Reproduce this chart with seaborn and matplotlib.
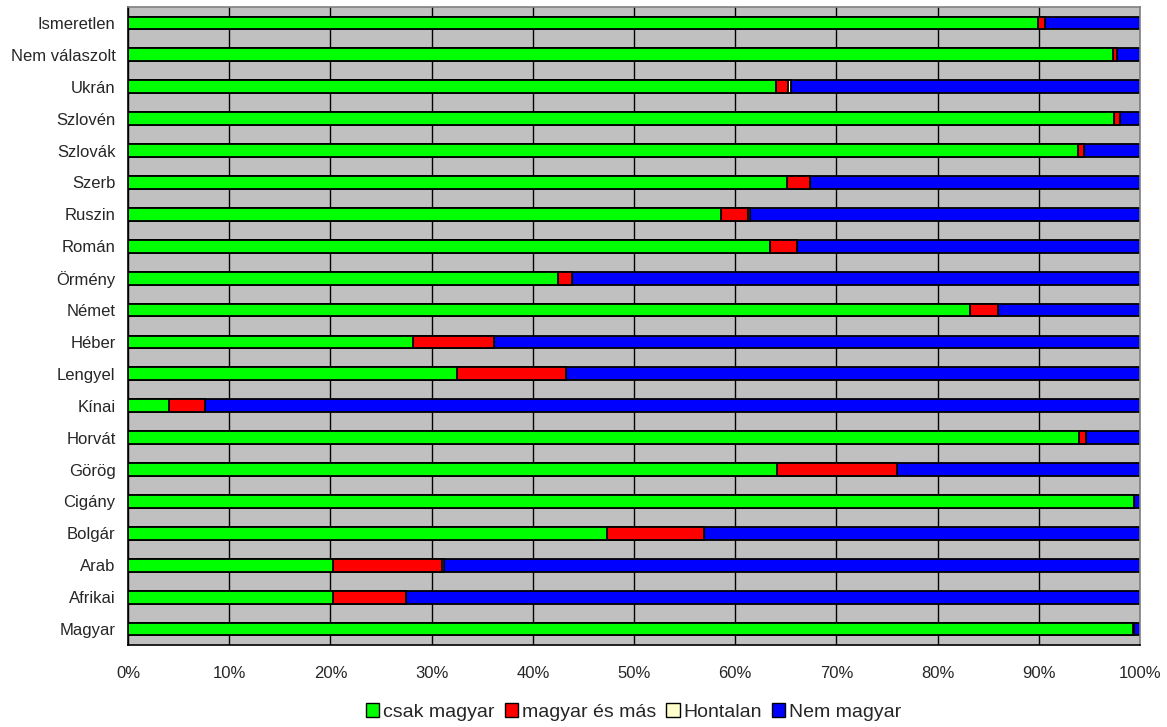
import pandas as pd
import seaborn as sns
import matplotlib
matplotlib.use('Agg')
import matplotlib.pyplot as plt
from matplotlib.patches import Patch
from matplotlib.ticker import FixedLocator, PercentFormatter

# Categories top to bottom
categories = ["Ismeretlen", "Nem válaszolt", "Ukrán", "Szlovén", "Szlovák", "Szerb",
              "Ruszin", "Román", "Örmény", "Német", "Héber", "Lengyel", "Kínai",
              "Horvát", "Görög", "Cigány", "Bolgár", "Arab", "Afrikai", "Magyar"]

csak_magyar = [89.9, 97.3, 64.0, 97.4, 93.9, 65.1, 58.6, 63.4, 42.5, 83.2,
               28.2, 32.5, 4.0, 94.0, 64.1, 99.4, 47.3, 20.3, 20.3, 99.3]
magyar_es_mas = [0.7, 0.4, 1.2, 0.6, 0.6, 2.3, 2.7, 2.7, 1.4, 2.8,
                 8.0, 10.8, 3.6, 0.7, 11.9, 0.0, 9.6, 10.7, 7.2, 0.1]
hontalan = [0.0, 0.0, 0.3, 0.0, 0.0, 0.0, 0.2, 0.0, 0.0, 0.0,
            0.0, 0.0, 0.0, 0.0, 0.0, 0.0, 0.0, 0.25, 0.0, 0.0]
nem_magyar = [9.4, 2.3, 34.5, 2.0, 5.5, 32.6, 38.5, 33.9, 56.1, 14.0,
              63.8, 56.7, 92.4, 5.3, 24.0, 0.6, 43.1, 68.75, 72.5, 0.6]

series = ["csak magyar", "magyar és más", "Hontalan", "Nem magyar"]
colors = ["#00FF00", "#FF0000", "#FFFFCC", "#0000FF"]

df = pd.DataFrame({"cat": categories, "csak magyar": csak_magyar,
                   "magyar és más": magyar_es_mas, "Hontalan": hontalan,
                   "Nem magyar": nem_magyar})

sns.set_style("white")
plt.rcParams['font.family'] = ['Liberation Sans', 'DejaVu Sans']

fig = plt.figure(figsize=(11.67, 7.27), dpi=100)
ax = fig.add_axes([0.1097, 0.1128, 0.8672, 0.8776])
ax.set_facecolor('#C0C0C0')

# stacked via cumulative sums, drawn largest first
cum = df[series].cumsum(axis=1)
for name, col in reversed(list(zip(series, colors))):
    sns.barplot(x=cum[name], y=df["cat"], order=categories, color=col,
                saturation=1.0, width=0.4, edgecolor='black', linewidth=1.3,
                ax=ax)

ax.set_xlim(0, 100)
ax.set_ylim(len(categories) - 0.5, -0.5)
ax.xaxis.set_major_locator(FixedLocator(range(0, 101, 10)))
ax.xaxis.set_major_formatter(PercentFormatter(decimals=0))
ax.grid(axis='x', color='black', linewidth=1.0)
ax.set_axisbelow(True)

ax.set_xlabel('')
ax.set_ylabel('')
ax.tick_params(axis='x', direction='out', length=5, width=1, color='black',
               labelsize=12, pad=10)
ax.tick_params(axis='y', which='major', length=0, labelsize=12, pad=9)
ax.yaxis.set_minor_locator(FixedLocator([i - 0.5 for i in range(len(categories) + 1)]))
ax.tick_params(axis='y', which='minor', direction='out', length=5, width=1, color='black')

for s in ['left', 'bottom']:
    ax.spines[s].set_color('black')
    ax.spines[s].set_linewidth(1.2)
for s in ['top', 'right']:
    ax.spines[s].set_color('#808080')
    ax.spines[s].set_linewidth(1.2)

handles = [Patch(facecolor=c, edgecolor='black', linewidth=1.0, label=n)
           for n, c in zip(series, colors)]
fig.legend(handles=handles, loc='center', bbox_to_anchor=(0.543, 0.021), ncol=4,
           frameon=False, fontsize=14, handlelength=0.7, handleheight=0.7,
           handletextpad=0.2, columnspacing=0.5)

fig.savefig('out.png', dpi=100)
